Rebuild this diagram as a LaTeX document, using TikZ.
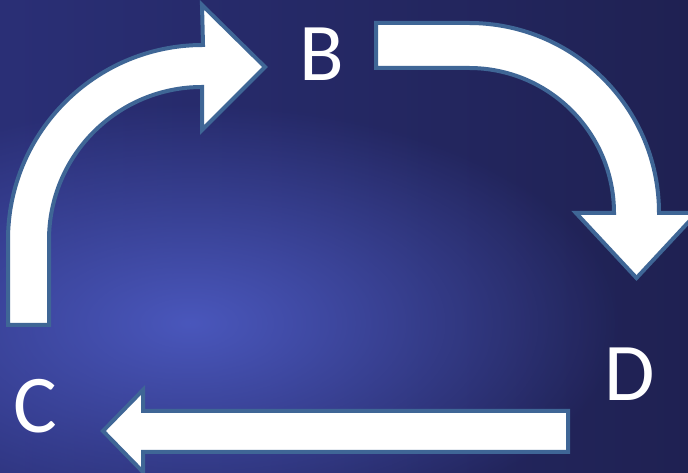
\documentclass[tikz,border=0pt]{standalone}
\usepackage{fontspec}
\setmainfont{Carlito}
\usetikzlibrary{fadings}
\definecolor{navy}{HTML}{1F2152}
\definecolor{navyleft}{HTML}{2A2F76}
\definecolor{glow}{HTML}{4A57BC}
\definecolor{edge}{HTML}{3F6696}
\tikzfading[name=glowfade, inner color=transparent!0, outer color=transparent!100]
\begin{document}
\begin{tikzpicture}[x=1pt,y=1pt,
  lbl/.style={text=white, inner sep=0pt, font=\fontsize{82}{90}\selectfont},
  blk/.style={fill=white, draw=edge, line width=4pt}]
\useasboundingbox (0,0) rectangle (688,473);
\clip (0,0) rectangle (688,473);
% background
\shade[left color=navyleft, right color=navy] (0,0) rectangle (688,473);
\fill[glow, path fading=glowfade] (190,150) ellipse [x radius=430, y radius=220];
% arrows
\draw[blk] (8,148) -- (8,233) arc[start angle=180, end angle=90, radius=195]
  -- (202,468) -- (265,406) -- (202,343) -- (202,386)
  arc[start angle=90, end angle=180, radius=153] -- (49,148) -- cycle;
\draw[blk] (376,450) -- (469,450) arc[start angle=90, end angle=0, radius=190]
  -- (697,260) -- (636.5,195) -- (576,260) -- (614,260)
  arc[start angle=0, end angle=90, radius=145] -- (376,405) -- cycle;
\draw[blk] (568,62) -- (143,62) -- (143,83) -- (103,42) -- (143,1) -- (143,21)
  -- (568,21) -- cycle;
% labels
\node[lbl] (b) at (322,419) {B};
\node[lbl] (c) at (35,67) {C};
\node[lbl] (d) at (630,99) {D};
\end{tikzpicture}
\end{document}
